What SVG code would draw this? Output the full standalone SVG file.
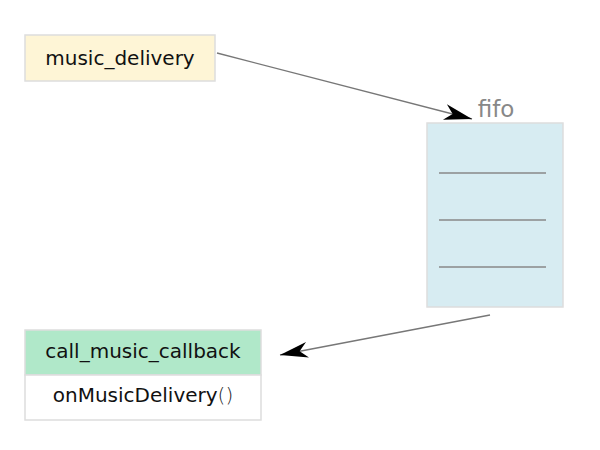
<svg xmlns="http://www.w3.org/2000/svg" width="600" height="450" viewBox="0 0 600 450">
<style>
.t{font-family:"DejaVu Sans","Liberation Sans",sans-serif;font-size:20px;fill:#111;text-anchor:middle}
.box{stroke:#dddddd;stroke-width:1.5}
.c{stroke:#777;stroke-width:1.3;fill:none}
.sep{stroke:#888;stroke-width:1.5}
</style>
<defs>
<marker id="ah" markerUnits="userSpaceOnUse" markerWidth="40" markerHeight="30" refX="0" refY="0" viewBox="-30 -15 40 30" orient="auto" overflow="visible">
<path d="M0,0 L-28,-8 L-20,0 L-28,8 Z" fill="#000"/>
</marker>
</defs>
<rect width="600" height="450" fill="#fff"/>
<g id="music_delivery">
<rect class="box" x="25" y="35" width="190" height="46" fill="#fef5d6"/>
<text class="t" x="120" y="65">music_delivery</text>
</g>
<g id="fifo">
<rect class="box" x="427" y="123" width="136" height="184" fill="#d7ecf2"/>
<line class="sep" x1="439" y1="173" x2="546" y2="173"/>
<line class="sep" x1="439" y1="220" x2="546" y2="220"/>
<line class="sep" x1="439" y1="267" x2="546" y2="267"/>
<text x="496" y="117" style="font-family:'DejaVu Sans','Liberation Sans',sans-serif;font-size:23px;fill:#888;text-anchor:middle">fifo</text>
</g>
<g id="call_music_callback">
<rect class="box" x="25" y="330" width="236" height="45" fill="#b0e8c9"/>
<rect class="box" x="25" y="375" width="236" height="45" fill="#fff"/>
<text class="t" x="143" y="358">call_music_callback</text>
<text class="t" x="143" y="402">onMusicDelivery<tspan style="font-weight:200;fill:#222">()</tspan></text>
</g>
<g id="connectors">
<line class="c" x1="217" y1="53" x2="472" y2="119" marker-end="url(#ah)"/>
<line class="c" x1="490" y1="315" x2="280" y2="355" marker-end="url(#ah)"/>
</g>
</svg>
